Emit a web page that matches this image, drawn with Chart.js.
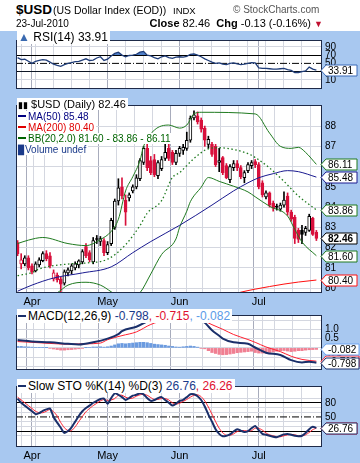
<!DOCTYPE html>
<html><head><meta charset="utf-8">
<script src="https://cdn.jsdelivr.net/npm/chart.js@4.4.1/dist/chart.umd.min.js"></script>
<style>
html,body{margin:0;padding:0;}
body{width:360px;height:463px;position:relative;overflow:hidden;background:#a8c8f0;font-family:"Liberation Sans",Arial,sans-serif;color:#000;}
#head{position:absolute;left:0;top:0;width:360px;height:31px;background:#fff;}
canvas{position:absolute;left:0;}
.t{position:absolute;white-space:nowrap;line-height:1;z-index:5;}
.lg{position:absolute;left:17px;z-index:5;font-size:10px;line-height:11px;}
.lg span.b{background:#fff;padding:0 2px 0 1px;}
.mk{display:inline-block;width:8px;height:2px;vertical-align:middle;margin-right:2px;position:relative;top:-1px;}
</style></head><body>
<div id="head"></div>
<div class="t" style="left:16px;top:3px;font-size:13.5px;font-weight:bold;">$USD</div>
<div class="t" style="left:53px;top:5px;font-size:10.5px;">(US Dollar Index (EOD))</div>
<div class="t" style="left:173px;top:6px;font-size:9.5px;">INDX</div>
<div class="t" style="left:233px;top:5px;font-size:10px;color:#555;">&copy; StockCharts.com</div>
<div class="t" style="left:16px;top:19px;font-size:10px;">23-Jul-2010</div>
<div class="t" style="right:37px;top:18px;font-size:11px;"><b>Close</b> 82.46 &nbsp;<b>Chg</b> -0.13 (-0.16%) <span style="color:#c01030;font-size:9px;">&#9660;</span></div>

<canvas id="cRsi" width="360" height="67" style="top:31px"></canvas>
<canvas id="cPx" width="360" height="211" style="top:96px"></canvas>
<canvas id="cMacd" width="360" height="73" style="top:306px"></canvas>
<canvas id="cSto" width="360" height="86" style="top:377px"></canvas>

<div class="lg" style="top:31px;font-size:12px;line-height:13px;"><span class="b"><span style="color:#3a6ab0;">&#9650;</span> RSI(14) 33.91</span></div>
<div class="lg" style="top:99px;">
<div><span class="b" style="font-size:11px;"><span style="font-size:9px">&#9646;&#9646;</span> $USD (Daily) 82.46</span></div>
<div><span class="b" style="color:#000080;"><span class="mk" style="background:#000080"></span>MA(50) 85.48</span></div>
<div><span class="b" style="color:#e00000;"><span class="mk" style="background:#e00000"></span>MA(200) 80.40</span></div>
<div><span class="b" style="color:#006400;"><span class="mk" style="background:#006400"></span>BB(20,2.0) 81.60 - 83.86 - 86.11</span></div>
<div><span class="b" style="color:#1a3a8a;"><span style="font-size:9px">&#9609;</span>Volume undef</span></div>
</div>
<div class="lg" style="top:310px;font-size:12px;line-height:13px;"><span class="b"><span class="mk" style="background:#1a2f6a"></span>MACD(12,26,9) <span style="color:#1a3a8a">-0.798</span><span style="color:#e01030">, -0.715</span><span style="color:#5b9be8">, -0.082</span></span></div>
<div class="lg" style="top:380px;font-size:12px;line-height:13px;"><span class="b"><span class="mk" style="background:#1a2f6a"></span>Slow STO %K(14) %D(3) <span style="color:#1a3a8a">26.76</span><span style="color:#e01030">, 26.26</span></span></div>

<script>
// ---------- DATA ----------
const dates = ['2010-03-26','2010-03-29','2010-03-30','2010-03-31',
'2010-04-01','2010-04-05','2010-04-06','2010-04-07','2010-04-08','2010-04-09','2010-04-12','2010-04-13','2010-04-14','2010-04-15','2010-04-16','2010-04-19','2010-04-20','2010-04-21','2010-04-22','2010-04-23','2010-04-26','2010-04-27','2010-04-28','2010-04-29','2010-04-30',
'2010-05-03','2010-05-04','2010-05-05','2010-05-06','2010-05-07','2010-05-10','2010-05-11','2010-05-12','2010-05-13','2010-05-14','2010-05-17','2010-05-18','2010-05-19','2010-05-20','2010-05-21','2010-05-24','2010-05-25','2010-05-26','2010-05-27','2010-05-28',
'2010-06-01','2010-06-02','2010-06-03','2010-06-04','2010-06-07','2010-06-08','2010-06-09','2010-06-10','2010-06-11','2010-06-14','2010-06-15','2010-06-16','2010-06-17','2010-06-18','2010-06-21','2010-06-22','2010-06-23','2010-06-24','2010-06-25','2010-06-28','2010-06-29','2010-06-30',
'2010-07-01','2010-07-02','2010-07-05','2010-07-06','2010-07-07','2010-07-08','2010-07-09','2010-07-12','2010-07-13','2010-07-14','2010-07-15','2010-07-16','2010-07-19','2010-07-20','2010-07-21','2010-07-22','2010-07-23'];

const open = [82.25,81.2,81.2,81.5, 81.1,80.85,81.15,81.35,81.7,81.6,80.45,80.65,80.45,80.25,80.75,80.85,81.0,81.15,81.3,82.05,81.75,81.3,82.45,82.3,82.35,
81.75,82.2,83.0,84.3,85.0,84.35,84.45,84.8,85.0,85.4,86.2,86.9,86.3,86.35,85.55,85.9,86.4,86.9,86.7,86.2,
86.65,86.8,86.9,87.3,88.4,88.5,88.3,87.9,87.1,87.1,87.0,86.2,86.45,86.05,85.35,85.95,86.15,85.95,85.45,85.8,86.05,86.25,
86.1,85.2,84.5,84.7,84.2,84.05,83.9,84.1,84.55,83.75,83.5,82.85,82.85,82.75,82.85,83.45,82.75];
const high = [82.35,81.7,81.6,81.6, 81.2,81.3,81.5,81.8,81.85,81.75,80.9,80.75,80.55,80.9,81.0,81.2,81.3,81.4,81.9,82.2,81.85,82.5,82.6,82.55,82.45,
82.3,83.45,84.4,85.4,85.45,84.6,84.7,85.1,85.6,86.4,87.0,87.1,86.5,86.6,86.3,86.5,87.4,87.4,86.8,86.8,
87.0,87.1,87.7,88.5,88.75,88.7,88.4,88.0,87.5,87.2,87.1,86.9,86.5,86.15,86.1,86.3,86.3,86.05,85.8,86.2,86.3,86.35,
86.2,85.3,84.8,84.75,84.3,84.15,84.2,84.75,84.7,83.85,83.6,82.95,83.1,83.05,83.65,83.5,82.85];
const low = [81.6,80.95,81.1,80.9, 80.7,80.8,81.05,81.3,81.35,81.0,80.35,80.3,79.8,80.15,80.6,80.7,80.9,81.0,81.2,81.5,81.3,81.2,82.2,82.1,81.6,
81.65,82.1,82.9,84.1,84.4,83.1,84.3,84.7,84.9,85.3,86.1,85.8,85.6,85.5,85.4,85.8,86.3,86.3,86.1,86.1,
86.5,86.6,86.8,87.2,88.3,88.1,87.7,87.0,86.9,86.5,86.0,85.75,85.6,85.4,85.2,85.8,85.8,85.4,85.2,85.7,85.9,85.95,
84.9,84.5,84.4,84.0,83.8,83.85,83.8,84.0,83.6,83.3,82.2,82.25,82.2,82.6,82.8,82.6,82.35];
const close = [81.7,81.4,81.5,81.0, 80.8,81.2,81.4,81.7,81.45,81.1,80.75,80.4,80.2,80.8,80.9,81.1,81.2,81.35,81.8,81.6,81.4,82.35,82.4,82.45,81.75,
82.15,83.35,84.3,84.95,84.55,83.75,84.6,85.0,85.45,86.3,86.9,85.95,85.7,85.6,86.2,86.35,86.7,86.4,86.2,86.65,
86.9,86.95,87.3,88.4,88.55,88.2,87.85,87.3,87.35,86.6,86.1,86.3,85.7,85.45,86.0,86.15,85.95,85.5,85.7,86.1,86.2,86.1,
85.0,84.6,84.7,84.1,83.95,84.0,84.1,84.35,83.75,83.4,82.45,82.4,82.65,82.95,83.55,82.65,82.46];

// overlays: [day index, value]
const ma50 = [[0,79.85],[4,80.15],[10,80.5],[18,80.75],[26,81.05],[32,81.75],[37,82.3],[45,83.1],[54,84.1],[60,84.8],[64,85.2],[67,85.45],[71,85.65],[75,85.8],[78,85.75],[83,85.48]];
const ma200 = [[59,79.65],[62,79.8],[66,79.95],[70,80.08],[74,80.2],[78,80.3],[83,80.40]];
const bbUpper = [[0,82.2],[3,82.37],[7,82.5],[14,82.2],[19,82.1],[23,82.4],[26,82.8],[28,83.4],[30,84.8],[32,85.5],[34,86.3],[35,87.0],[38,87.8],[42,88.05],[45,87.9],[47,88.05],[49,88.6],[51,88.68],[66,88.6],[70,87.65],[73,87.0],[76,86.9],[78,86.95],[80,86.7],[83,86.11]];
const bbLower = [[0,79.3],[7,79.5],[11,79.77],[14,80.15],[19,80.29],[23,80.15],[26,79.82],[27,79.7],[30,79.3],[34,79.77],[37,80.7],[40,81.66],[44,82.43],[45,83.0],[47,83.8],[48,84.27],[51,84.98],[53,85.46],[56,85.27],[60,85.03],[64,84.75],[66,84.51],[70,84.04],[75,83.56],[77,82.9],[79,82.28],[83,81.60]];
const bbMiddle = [[0,80.62],[4,80.77],[6,80.95],[14,81.19],[19,81.24],[25,81.43],[30,82.14],[34,83.09],[36,83.7],[40,84.32],[43,85.46],[45,85.7],[49,86.4],[53,86.88],[56,86.93],[59,86.88],[64,86.64],[66,86.45],[70,85.93],[74,85.27],[78,84.55],[83,83.86]];

const rsi = [64,59,60,55, 50,55,57,59,58, 53,48,45,43,47, 50,52,54,55,58, 61,57,58,63,66, 57,60,68,74,77, 70,66,69,70,72, 77,79,70,68,64, 61,66,68,64,62, 65,66,65,67,72, 73,70,66,61,57, 53,50,51,48,47, 50,51,49,47,48, 50,52,51,39,38, 38,37,36,36,37, 38,35,33,28,28, 30,32,41,36,33.91];

const macd = [[0,0.42],[4,0.34],[9,0.3],[14,0.22],[17,0.18],[21,0.3],[25,0.5],[28,0.74],[29,0.9],[33,1.14],[37,1.5],[41,1.62],[45,1.54],[49,1.58],[52,1.35],[53,1.15],[54,0.95],[56,0.65],[57,0.5],[60,0.3],[64,0.22],[66,0.02],[69,-0.26],[73,-0.38],[76,-0.66],[79,-0.78],[81,-0.74],[83,-0.798]];
const signal = [[0,0.34],[4,0.3],[9,0.24],[14,0.2],[19,0.22],[23,0.26],[25,0.44],[29,0.66],[33,0.86],[37,1.26],[41,1.48],[45,1.5],[49,1.5],[52,1.42],[54,1.25],[57,1.0],[60,0.72],[64,0.45],[66,0.3],[69,0.05],[73,-0.2],[76,-0.45],[79,-0.62],[83,-0.715]];
const histogram = [0.08,0.08,0.06,0.05, 0.04,0.03,0.02,0.02,0.01, -0.02,-0.06,-0.09,-0.12,-0.12, -0.1,-0.09,-0.07,-0.05,-0.02, 0.01,0.03,0.05,0.05,0.06, 0.04,0.06,0.1,0.16,0.22, 0.24,0.22,0.24,0.26,0.28, 0.3,0.3,0.28,0.24,0.2, 0.18,0.16,0.14,0.1,0.08, 0.05,0.04,0.06,0.08,0.1, 0.08,0.04,-0.02,-0.05,-0.15, -0.25,-0.3,-0.35,-0.37,-0.36, -0.33,-0.3,-0.26,-0.24,-0.22, -0.2,-0.18,-0.25,-0.28,-0.28, -0.28,-0.25,-0.22,-0.18,-0.15, -0.14,-0.17,-0.2,-0.18,-0.15, -0.15,-0.12,-0.1,-0.09,-0.082];

const stoK = [89,80,74,68, 62,56,58,63,66, 68,50,38,27,16, 20,28,40,52,62, 69,74,80,84,88, 89,78,90,100,97, 92,86,90,95,97, 100,98,90,84,86, 90,92,86,80,74, 78,84,86,92,98, 98,94,86,72,55, 40,24,14,9,10, 13,19,24,21,18, 20,26,31,22,14, 12,10,8,7,10, 13,14,12,10,9, 10,16,24,29,26.76];
const stoD = [92,86,80,74, 68,62,59,59,62, 66,61,52,38,27, 21,21,29,40,51, 61,68,74,79,84, 87,85,86,89,96, 96,92,89,90,94, 97,98,96,91,87, 87,89,89,86,80, 77,79,83,87,92, 96,97,93,84,71, 56,40,26,16,11, 11,14,19,21,21, 20,21,26,26,22, 16,12,10,8,8, 10,12,13,12,10, 10,12,17,23,26.26];

const priceTicks = [80,81,82,83,84,85,86,87,88];
const rsiTicks = [10,30,50,70,90];
const macdTicks = [-1.0,-0.5,0,0.5,1.0,1.5];
const stoTicks = [10,20,30,40,50,60,70,80,90];

// ---------- helpers ----------
const FONT = '"Liberation Sans", Arial, sans-serif';
const RED = '#d8103c';
const monthNames = ['Jan','Feb','Mar','Apr','May','Jun','Jul','Aug','Sep','Oct','Nov','Dec'];
const gridTicks = [], monthLabel = {};
dates.forEach((d,p)=>{
  const dt = new Date(d+'T00:00:00Z');
  const m = dt.getUTCMonth();
  const pm = p>0 ? new Date(dates[p-1]+'T00:00:00Z').getUTCMonth() : m;
  if (p>0 && m!==pm) { gridTicks.push(p); monthLabel[p] = monthNames[m]; }
  else if (dt.getUTCDay()===1) gridTicks.push(p);
});
const XMIN = -0.44, XMAX = 84.56;
const pts = a => a.map(([x,y])=>({x,y}));
const daily = a => a.map((y,x)=>({x,y}));

function xScale(h, showLabels){
  return {
    type:'linear', min:XMIN, max:XMAX, offset:false,
    afterBuildTicks: s => { s.ticks = gridTicks.map(v=>({value:v})); },
    afterFit: s => { s.height = h; },
    border:{display:false},
    grid:{drawTicks:false, lineWidth:1, color: c => (c.tick && monthLabel[c.tick.value]) ? '#a8acbc' : '#d4d7e0'},
    ticks:{display:showLabels, autoSkip:false, maxRotation:0, padding:2, color:'#000',
      font:{family:FONT, size:11}, callback: v => monthLabel[v] || ''}
  };
}
function yScale(min, max, ticks, labelFn, gridFn){
  return {
    position:'right', min, max,
    afterBuildTicks: s => { s.ticks = ticks.map(v=>({value:v})); },
    afterFit: s => { s.width = 38; },
    border:{display:false},
    grid:{drawTicks:false, lineWidth:1, color: c => gridFn(c.tick ? c.tick.value : null)},
    ticks:{padding:3, autoSkip:false, color:'#000', font:{family:FONT, size:10}, callback: labelFn}
  };
}
const bgPlugin = { id:'bg', beforeDraw(chart){ const {ctx, chartArea:a} = chart; ctx.save(); ctx.fillStyle='#fff'; ctx.fillRect(a.left, a.top, a.right-a.left, a.bottom-a.top); ctx.restore(); } };
const framePlugin = { id:'frame', afterDraw(chart){ const {ctx, chartArea:a} = chart; ctx.save(); ctx.strokeStyle='#1e2a48'; ctx.lineWidth=1; ctx.strokeRect(a.left+0.5, a.top+0.5, a.right-a.left-1, a.bottom-a.top-1); ctx.restore(); } };
const tagPlugin = { id:'tags', afterDraw(chart, args, opts){
  const {ctx} = chart; const ys = chart.scales.y; const x0 = chart.chartArea.right - 1;
  (opts.items||[]).forEach(t=>{
    const y = Math.round(ys.getPixelForValue(t.v)) + 0.5;
    const w = t.w || 31;
    ctx.save();
    ctx.beginPath(); ctx.moveTo(x0, y); ctx.lineTo(x0+5, y-5.5); ctx.lineTo(x0+5+w, y-5.5); ctx.lineTo(x0+5+w, y+5.5); ctx.lineTo(x0+5, y+5.5); ctx.closePath();
    ctx.fillStyle='#fff'; ctx.fill(); ctx.strokeStyle=t.c; ctx.lineWidth=1; ctx.stroke();
    ctx.fillStyle='#000'; ctx.font=(t.b?'bold ':'')+'10px '+FONT; ctx.textBaseline='middle'; ctx.textAlign='left';
    ctx.fillText(t.text, x0+7, y+0.5);
    ctx.restore();
  });
}};
const common = (pad) => ({responsive:false, animation:false, devicePixelRatio:1, layout:{padding:pad},
  plugins:{legend:{display:false}, tooltip:{enabled:false}}, events:[]});
const hline = (v, color, dash) => ({type:'line', data:[{x:XMIN,y:v},{x:XMAX,y:v}], borderColor:color, borderWidth:1, borderDash:dash||[], pointRadius:0, order:5});

// ---------- RSI ----------
new Chart(document.getElementById('cRsi'), {
  type:'line',
  data:{datasets:[
    hline(50,'#000',[7,2,1,2]),
    {data:daily(rsi), borderColor:'#1f3c78', borderWidth:1.3, pointRadius:0, tension:0,
     fill:{target:{value:70}, above:'#4f7fc8', below:'rgba(0,0,0,0)'}, order:1},
    {data:daily(rsi), borderColor:'rgba(0,0,0,0)', borderWidth:0, pointRadius:0,
     fill:{target:{value:30}, above:'rgba(0,0,0,0)', below:'#4f7fc8'}, order:2}
  ]},
  options:Object.assign(common({left:16,right:0,top:1,bottom:1}), {
    scales:{x:xScale(0,false), y:yScale(-11.8,106.4,rsiTicks, v=> (v===30?'':String(v)), v=> (v===70||v===30)?'#000':(v===50?'rgba(0,0,0,0)':'#d4d7e0'))},
    plugins:{legend:{display:false}, tooltip:{enabled:false}, tags:{items:[{v:33.91,text:'33.91',c:'#3a6ab8'}]}}
  }),
  plugins:[bgPlugin, framePlugin, tagPlugin]
});

// ---------- PRICE ----------
const cColor = close.map((c,p)=> (p>0 ? c<close[p-1] : c<open[p]) ? RED : '#000');
const cFill = close.map((c,p)=> c>open[p] ? '#fff' : cColor[p]);
new Chart(document.getElementById('cPx'), {
  type:'bar',
  data:{datasets:[
    {type:'line', data:pts(ma200), borderColor:'#ff1010', borderWidth:1, pointRadius:0, cubicInterpolationMode:'monotone', order:1},
    {type:'line', data:pts(ma50), borderColor:'#1a1a90', borderWidth:1, pointRadius:0, cubicInterpolationMode:'monotone', order:1},
    {type:'line', data:pts(bbUpper), borderColor:'#1f7a1f', borderWidth:1, pointRadius:0, cubicInterpolationMode:'monotone', order:1},
    {type:'line', data:pts(bbLower), borderColor:'#1f7a1f', borderWidth:1, pointRadius:0, cubicInterpolationMode:'monotone', order:1},
    {type:'line', data:pts(bbMiddle), borderColor:'#1f7a1f', borderWidth:1.3, borderDash:[1.5,2.5], pointRadius:0, cubicInterpolationMode:'monotone', order:1},
    {data:dates.map((d,p)=>({x:p, y:[low[p],high[p]]})), backgroundColor:cColor, borderWidth:0, barThickness:1, grouped:false, order:3},
    {data:dates.map((d,p)=>({x:p, y:[open[p],close[p]]})), backgroundColor:cFill, borderColor:cColor, borderWidth:1, borderSkipped:false, barThickness:3, minBarLength:1, grouped:false, order:2}
  ]},
  options:Object.assign(common({left:16,right:0,top:1,bottom:0}), {
    scales:{x:xScale(14,true), y:yScale(79.76,89.04,priceTicks, v=>String(v), v=>'#d4d7e0')},
    plugins:{legend:{display:false}, tooltip:{enabled:false}, tags:{items:[
      {v:86.11,text:'86.11',c:'#1f7a1f'},{v:85.48,text:'85.48',c:'#1a1a90'},{v:83.86,text:'83.86',c:'#1f7a1f'},
      {v:82.46,text:'82.46',c:'#000',b:true},{v:81.60,text:'81.60',c:'#1f7a1f'},{v:80.40,text:'80.40',c:'#ff1010'}]}}
  }),
  plugins:[bgPlugin, framePlugin, tagPlugin]
});

// ---------- MACD ----------
new Chart(document.getElementById('cMacd'), {
  type:'bar',
  data:{datasets:[
    {data:daily(histogram), backgroundColor:histogram.map(v=>v>=0?'#6b9be0':'#f07f92'), borderWidth:0, barThickness:2.6, grouped:false, order:3},
    {type:'line', data:pts(signal), borderColor:'#ff2030', borderWidth:1, pointRadius:0, cubicInterpolationMode:'monotone', order:2},
    {type:'line', data:pts(macd), borderColor:'#1a2f6a', borderWidth:2, pointRadius:0, cubicInterpolationMode:'monotone', order:1}
  ]},
  options:Object.assign(common({left:16,right:0,top:1,bottom:1}), {
    scales:{x:xScale(0,false), y:yScale(-1.19,1.77,macdTicks, v=> (v===0||v===1.5)?'':v.toFixed(1), v=>'#d4d7e0')},
    plugins:{legend:{display:false}, tooltip:{enabled:false}, tags:{items:[
      {v:-0.715,text:'-0.715',c:'#ff2030',w:33},{v:-0.082,text:'-0.082',c:'#6fa4f0',w:33},{v:-0.798,text:'-0.798',c:'#1a2f6a',w:33}]}}
  }),
  plugins:[bgPlugin, framePlugin, tagPlugin]
});

// ---------- SLOW STO ----------
new Chart(document.getElementById('cSto'), {
  type:'line',
  data:{datasets:[
    hline(50,'#000',[7,2,1,2]),
    {data:daily(stoD), borderColor:'#ff2030', borderWidth:1, pointRadius:0, tension:0.2, order:2},
    {data:daily(stoK), borderColor:'#1a2f6a', borderWidth:2, pointRadius:0, tension:0.2, order:1}
  ]},
  options:Object.assign(common({left:16,right:0,top:1,bottom:0}), {
    scales:{x:xScale(16,true), y:yScale(-13.8,115.6,stoTicks, v=> (v===80||v===50||v===20)?String(v):'', v=> (v===80||v===20)?'#000':(v===50?'rgba(0,0,0,0)':'#d4d7e0'))},
    plugins:{legend:{display:false}, tooltip:{enabled:false}, tags:{items:[{v:26.26,text:'26.26',c:'#ff2030'},{v:26.76,text:'26.76',c:'#1a2f6a'}]}}
  }),
  plugins:[bgPlugin, framePlugin, tagPlugin]
});
</script>
</body></html>
